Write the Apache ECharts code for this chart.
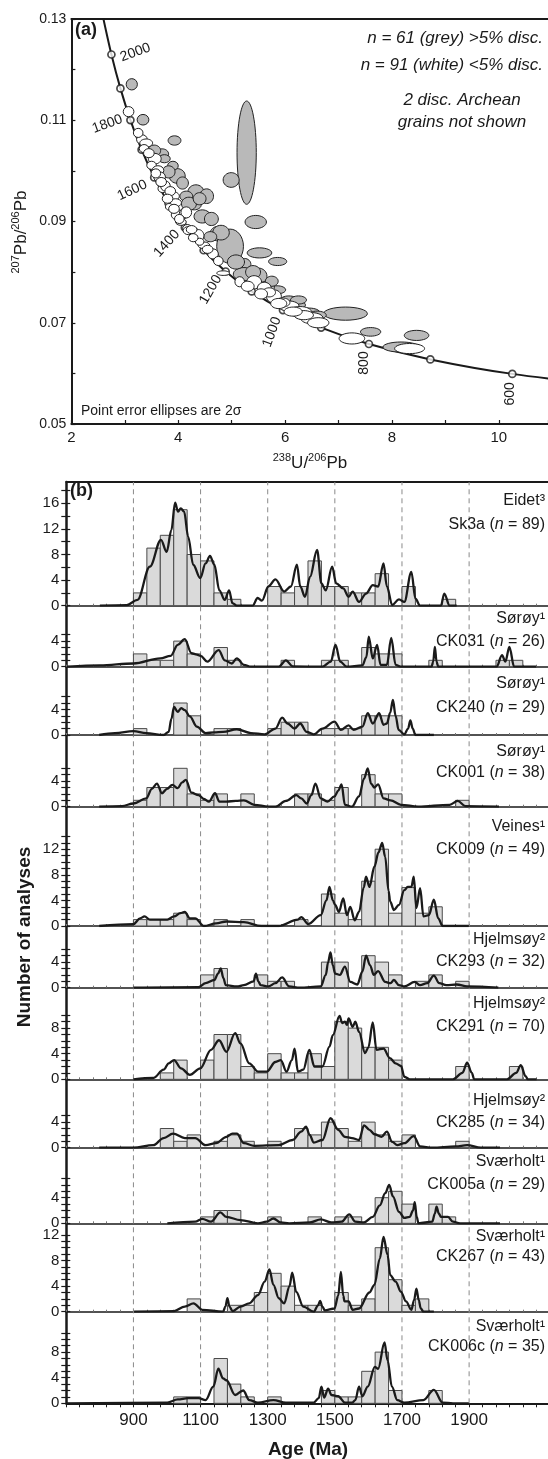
<!DOCTYPE html>
<html>
<head>
<meta charset="utf-8">
<script src="https://cdn.jsdelivr.net/npm/echarts@6/dist/echarts.min.js"></script>
<style>
html,body{margin:0;padding:0;background:#fff}
#c{width:548px;height:1459px}
</style>
</head>
<body>
<div id="c"></div>
<script>
// ---------- (a) Tera-Wasserburg concordia: [238U/206Pb, 207Pb/206Pb, age (Ma)]
const concordia = [
  [12.399, 0.057219, 500], [10.2518, 0.059901, 600], [8.7182, 0.062757, 700],
  [7.5683, 0.065800, 800], [6.6743, 0.069043, 900], [5.9593, 0.072500, 1000],
  [5.3746, 0.076187, 1100], [4.8875, 0.080122, 1200], [4.4756, 0.084323, 1300],
  [4.1232, 0.088817, 1400], [3.8170, 0.093597, 1500], [3.5497, 0.098715, 1600],
  [3.3139, 0.104186, 1700], [3.1046, 0.110036, 1800], [2.9174, 0.116293, 1900],
  [2.7490, 0.122988, 2000], [2.5968, 0.130150, 2100]
];
// age label placement next to its marker: [age, dx px, dy px, rotation deg]
const concordiaLabels = [
  [2000, 24, -2, 20], [1800, -23, 4, 20], [1600, -22, 13, 25], [1400, -18, 16, 48],
  [1200, -15, 18, 60], [1000, -11, 22, 70], [800, -5, 19, 90], [600, -2, 20, 90]
];
// error ellipses: [238U/206Pb, 207Pb/206Pb, half-width, half-height]
const greyEllipses = [
  [3.13,0.1171,0.105,0.00112],[3.34,0.1101,0.11,0.00105],[3.93,0.1060,0.12,0.00092],
  [3.70,0.1033,0.12,0.00105],[3.74,0.1024,0.11,0.0008],[3.98,0.0990,0.15,0.00145],
  [4.08,0.0976,0.11,0.0012],[4.33,0.0958,0.15,0.00145],[4.53,0.0950,0.13,0.00145],
  [4.30,0.0933,0.13,0.001],[4.45,0.0910,0.155,0.0013],[4.75,0.0876,0.155,0.00145],
  [4.93,0.0869,0.155,0.00145],[4.97,0.0851,0.25,0.0034],[4.80,0.0878,0.155,0.00145],
  [5.28,0.1036,0.18,0.0102],[4.99,0.0982,0.15,0.00145],[5.45,0.0899,0.2,0.0013],
  [5.52,0.0838,0.23,0.001],[5.86,0.0821,0.17,0.0008],[5.24,0.0815,0.12,0.0012],
  [5.50,0.0792,0.16,0.0016],[5.23,0.0796,0.2,0.0013],[5.85,0.0765,0.16,0.0008],
  [6.07,0.0745,0.16,0.0008],[7.13,0.0718,0.41,0.0013],[7.60,0.0682,0.19,0.00085],
  [8.46,0.0675,0.23,0.001],[8.17,0.0652,0.34,0.001],[6.20,0.0735,0.18,0.0009],
  [6.45,0.0720,0.2,0.0009],[5.65,0.0770,0.15,0.0012],[4.60,0.0870,0.12,0.001],
  [4.15,0.0950,0.12,0.001],[3.90,0.1010,0.1,0.0009],
  [3.55,0.1040,0.12,0.0011],[3.82,0.0998,0.12,0.0012],[4.20,0.0935,0.14,0.0013],
  [4.62,0.0905,0.13,0.0013],[4.40,0.0945,0.12,0.0012],[5.08,0.0820,0.16,0.0014],
  [5.40,0.0800,0.14,0.0013],[5.75,0.0782,0.12,0.0010],[6.25,0.0745,0.15,0.0008],
  [6.60,0.0715,0.17,0.0008]
];
const whiteEllipses = [
  [3.07,0.1117,0.10,0.001],[3.32,0.1062,0.10,0.00095],[3.40,0.1055,0.12,0.0008],
  [3.36,0.1044,0.09,0.0008],[3.56,0.1024,0.12,0.00105],[3.50,0.1011,0.09,0.0008],
  [3.62,0.1001,0.11,0.00092],[3.65,0.0988,0.11,0.001],[3.71,0.0965,0.09,0.0008],
  [3.76,0.0970,0.09,0.001],[3.89,0.0950,0.13,0.00092],[3.95,0.0937,0.11,0.0008],
  [3.83,0.0929,0.07,0.00066],[3.99,0.0913,0.12,0.001],[4.11,0.0916,0.09,0.001],
  [4.15,0.0918,0.1,0.0011],[4.17,0.0886,0.09,0.0008],[4.32,0.0876,0.09,0.001],
  [4.05,0.0899,0.1,0.00066],[4.19,0.0882,0.1,0.0008],[4.38,0.0872,0.1,0.0012],
  [4.25,0.0884,0.1,0.0008],[4.48,0.0853,0.11,0.00066],[4.65,0.0836,0.1,0.001],
  [4.84,0.0798,0.12,0.00045],[5.15,0.0781,0.09,0.001],[5.42,0.0780,0.14,0.0013],
  [5.61,0.0768,0.13,0.0012],[5.79,0.0752,0.14,0.0013],[6.07,0.0733,0.19,0.001],
  [6.28,0.0722,0.21,0.001],[6.50,0.0709,0.21,0.0011],[7.25,0.0669,0.24,0.0011],
  [8.33,0.0649,0.28,0.001],[5.70,0.0760,0.12,0.0009],[5.95,0.0740,0.14,0.0009],
  [6.35,0.0715,0.18,0.0009],[4.40,0.0860,0.08,0.0007],[3.85,0.0960,0.1,0.0009],
  [3.25,0.1075,0.09,0.0009],[3.45,0.1035,0.1,0.0009],[3.58,0.0995,0.09,0.0009],
  [3.68,0.0978,0.1,0.0009],[3.80,0.0945,0.1,0.0009],[3.92,0.0925,0.1,0.0009],
  [4.02,0.0905,0.09,0.0009],[4.28,0.0868,0.09,0.0008],[4.55,0.0845,0.1,0.0008],
  [4.75,0.0822,0.09,0.0009],[5.30,0.0772,0.12,0.001],[5.55,0.0757,0.12,0.001],
  [5.88,0.0738,0.15,0.001],[6.15,0.0722,0.17,0.0009],[6.62,0.0700,0.2,0.0010]
];
const uRatioLabels = [2, 4, 6, 8, 10];
const pbRatioLabels = [0.05, 0.07, 0.09, 0.11, 0.13];

// ---------- (b) detrital zircon age spectra: histogram bins [bin start (Ma), count], density curves [age, value]
const BIN = 40;
const binsSk3a = [[900,2],[940,9],[980,11],[1020,15],[1060,8],[1100,7],[1140,2],[1180,1],[1300,3],[1340,2],[1380,3],[1420,7],[1460,3],[1500,3],[1540,2],[1580,2],[1620,5],[1700,3],[1820,1]];
const kdeSk3a = [[800,0],[880,0.1],[912,0.9],[949,6.1],[982,10.3],[999,8.4],[1013,11.8],[1024,16.1],[1033,14.7],[1041,15.2],[1051,14.7],[1063,10.8],[1078,6.4],[1099,4.3],[1115,6.6],[1128,7.8],[1141,6.4],[1156,2.4],[1172,0.9],[1185,2.4],[1195,0.4],[1208,0],[1255,0],[1270,1.2],[1283,0.8],[1302,3],[1323,4.1],[1349,2.2],[1369,3],[1387,6.4],[1397,3],[1411,1.4],[1426,4.5],[1447,8.7],[1460,3.5],[1473,2.4],[1492,6.1],[1504,3.5],[1525,2.7],[1541,1.4],[1553,2.2],[1572,0.6],[1593,1.9],[1613,3.2],[1629,3],[1645,6.6],[1655,3],[1671,0.1],[1691,1],[1707,0.6],[1728,5.3],[1740,1.1],[1754,0],[1816,0],[1826,1.9],[1842,0],[1863,0]];

const binsCK031 = [[900,2],[940,1],[980,1],[1020,4],[1060,2],[1140,3],[1180,1],[1340,1],[1460,1],[1500,1],[1580,3],[1620,2],[1660,2],[1780,1],[1980,1],[2020,1]];
const kdeCK031 = [[705,0],[800,0.2],[900,0.5],[980,1.3],[1011,1.7],[1032,3.4],[1053,4.3],[1073,2.1],[1089,1.9],[1100,1.7],[1120,0.8],[1154,2.6],[1172,1],[1193,0.5],[1208,1.3],[1229,0.3],[1250,0],[1333,0],[1354,1],[1375,0.05],[1463,0],[1488,0.8],[1502,3.4],[1516,0.8],[1535,0],[1582,0.2],[1594,1.5],[1601,4.7],[1613,1.3],[1626,3.4],[1636,0.3],[1655,0.3],[1668,4.5],[1681,0.3],[1696,0],[1788,0],[1793,0.8],[1798,3.1],[1803,0.8],[1808,0],[1982,0],[1998,1.8],[2008,0.8],[2020,3.1],[2034,0],[2100,0]];

const binsCK240 = [[900,1],[1020,5],[1060,3],[1140,1],[1180,1],[1300,1],[1340,2],[1380,2],[1460,1],[1500,1],[1540,1],[1580,3],[1620,3],[1660,3]];
const kdeCK240 = [[798,0],[845,0.3],[900,0.6],[938,0.3],[990,0],[1005,0.5],[1013,2.5],[1021,4.4],[1032,3.6],[1042,4.2],[1053,3.9],[1068,2.9],[1089,1.3],[1115,0.3],[1140,0.4],[1167,0.5],[1208,0.9],[1250,0.3],[1291,0.1],[1323,1],[1343,2.7],[1359,1.8],[1380,1],[1397,1.8],[1416,0.5],[1437,0.1],[1463,1],[1499,2.1],[1518,0.8],[1541,1.5],[1556,0.8],[1582,1.3],[1598,3.4],[1613,1.8],[1632,3.4],[1645,1.6],[1655,1.8],[1665,3.5],[1673,5.5],[1681,3],[1690,0.8],[1707,0.1],[1718,1],[1725,2.3],[1732,1],[1740,0],[1795,0]];

const binsCK001 = [[900,1],[940,3],[980,3],[1020,6],[1060,2],[1100,1],[1140,2],[1220,2],[1380,2],[1420,2],[1460,1],[1500,3],[1580,5],[1620,2],[1660,2],[1860,1]];
const kdeCK001 = [[798,0],[866,0.1],[900,0.5],[938,1.3],[955,2.8],[970,3.6],[985,2.1],[1000,2.8],[1016,3.4],[1032,2.9],[1045,3.8],[1056,4.2],[1073,2.2],[1094,1.8],[1110,1.2],[1125,0.8],[1143,2.1],[1156,0.8],[1177,0.8],[1205,0.9],[1229,1],[1260,0.3],[1302,0],[1323,0],[1354,0.9],[1385,1.8],[1400,1.3],[1416,0.5],[1430,1.8],[1442,3.6],[1458,1.3],[1478,0.8],[1499,1.6],[1510,2.5],[1520,3.5],[1530,0.3],[1551,0],[1572,1.6],[1587,4.4],[1598,6],[1608,3.6],[1618,3],[1629,3.5],[1645,1.3],[1666,1],[1697,0.3],[1748,0],[1842,0.3],[1866,0.9],[1889,0.1],[1989,0]];

const binsCK009 = [[900,1],[940,1],[980,1],[1020,2],[1060,1],[1140,1],[1220,1],[1380,1],[1460,5],[1500,2],[1540,1],[1580,7],[1620,12],[1660,2],[1700,6],[1740,2],[1780,3]];
const kdeCK009 = [[798,0],[900,0.3],[920,1.2],[933,1.5],[949,1],[980,1],[1001,1],[1021,1.5],[1040,2],[1053,2.2],[1068,1.2],[1084,1.2],[1110,0],[1146,0.4],[1177,0.7],[1229,0.6],[1281,0],[1333,0],[1390,1],[1400,1.4],[1421,0.3],[1458,1.7],[1475,4],[1484,6.1],[1494,4],[1501,3.3],[1512,2.2],[1525,4.3],[1536,1.7],[1546,3],[1559,0.9],[1572,2.2],[1586,6],[1593,7.7],[1603,6.1],[1618,9.3],[1630,11.5],[1641,13],[1650,10.8],[1660,5.5],[1665,3.8],[1676,2.5],[1691,3.3],[1707,5.6],[1717,6.1],[1728,6.1],[1735,7.7],[1743,2.8],[1754,5.9],[1764,1.5],[1780,1.7],[1795,4.1],[1808,1.2],[1821,0],[1899,0]];

const binsCK293 = [[1100,2],[1140,3],[1260,2],[1300,1],[1340,1],[1460,4],[1500,4],[1580,5],[1620,4],[1660,2],[1740,1],[1780,2],[1860,1]];
const kdeCK293 = [[900,0],[1094,0.1],[1115,0.7],[1141,1.2],[1152,2.2],[1160,3],[1168,1.5],[1175,0.4],[1208,0.2],[1229,0.4],[1258,1],[1265,2.2],[1272,1],[1279,0.4],[1302,0.2],[1323,0.7],[1343,1.6],[1364,0.2],[1395,0],[1458,0.2],[1473,2],[1480,4],[1487,5.5],[1494,3.5],[1501,2.2],[1515,2],[1530,3.3],[1546,0.9],[1567,0.5],[1582,2.5],[1593,5],[1605,3.5],[1616,2],[1629,2.6],[1650,0.9],[1666,0.7],[1676,1.2],[1691,0.4],[1707,0.2],[1738,0.9],[1754,0.4],[1775,0.7],[1795,1.9],[1811,0.7],[1832,0.4],[1863,0.5],[1894,0.2],[1987,0]];

const binsCK291 = [[980,1],[1020,3],[1100,3],[1140,7],[1180,7],[1220,2],[1260,1],[1300,4],[1340,1],[1380,1],[1420,4],[1460,2],[1500,9],[1540,8],[1580,5],[1620,5],[1660,3],[1860,2],[2020,2]];
const kdeCK291 = [[900,0],[959,0.2],[990,1.5],[1005,2.5],[1021,3],[1042,1.7],[1068,0.7],[1099,1.7],[1131,4.6],[1155,6.1],[1177,4.3],[1203,7.2],[1219,5.6],[1245,2.5],[1271,1.2],[1297,1.2],[1323,2.7],[1339,3],[1356,1.2],[1372,3],[1380,4.8],[1390,1.2],[1406,1.5],[1424,4.6],[1439,2],[1463,2],[1484,5.1],[1494,6.9],[1514,9.9],[1522,8.8],[1530,9],[1536,8.5],[1541,9.5],[1553,8.2],[1561,9],[1572,7.4],[1590,4.1],[1600,5],[1613,8.9],[1624,4.6],[1645,4.8],[1664,3.3],[1681,2.5],[1697,2.1],[1707,0.4],[1723,0],[1852,0],[1880,1],[1894,2.6],[1908,1],[1915,0],[2013,0],[2040,1],[2054,2.2],[2068,0.5],[2075,0],[2101,0]];

const binsCK285 = [[980,3],[1020,1],[1060,2],[1140,1],[1180,2],[1220,1],[1300,1],[1380,3],[1420,2],[1460,4],[1500,3],[1540,1],[1580,4],[1620,2],[1660,1],[1700,2],[1860,1]];
const kdeCK285 = [[798,0],[900,0],[959,0.4],[990,1.5],[1018,2.2],[1053,1.5],[1084,1.5],[1115,0.4],[1146,0.7],[1177,1.7],[1195,2.2],[1208,2.2],[1229,0.7],[1260,0.3],[1333,0.4],[1374,1.2],[1400,2.5],[1414,3.3],[1425,2],[1437,0.8],[1463,1.2],[1487,4.6],[1510,2.8],[1530,1.7],[1551,1.5],[1572,1.2],[1587,3.5],[1603,2.8],[1618,2.1],[1639,1.7],[1655,2.5],[1671,0.9],[1686,0.4],[1707,0.7],[1735,1.8],[1754,0.2],[1790,0],[1860,0.2],[1894,0.4],[1935,0],[1992,0]];

const binsCK005a = [[1100,1],[1140,2],[1180,2],[1300,1],[1420,1],[1500,1],[1540,1],[1620,4],[1660,5],[1700,3],[1780,3],[1820,1]];
const kdeCK005a = [[1001,0],[1084,0.25],[1105,0.7],[1131,0.25],[1159,1.7],[1177,1],[1219,0.5],[1271,0],[1297,0.25],[1317,0.75],[1338,0.15],[1364,0],[1426,0.15],[1458,0.6],[1489,0.15],[1520,0.25],[1543,1.4],[1561,0.25],[1587,0.15],[1613,1],[1634,2.8],[1650,4.7],[1662,6],[1673,4.2],[1691,1.8],[1707,0.85],[1723,1],[1733,2],[1738,3.3],[1744,1],[1749,0],[1790,0.25],[1798,1.5],[1803,2.6],[1810,1.5],[1816,1],[1837,1],[1852,0.25],[1873,0],[1992,0]];

const binsCK267 = [[1060,2],[1180,1],[1220,1],[1260,3],[1300,6],[1340,4],[1380,1],[1420,1],[1500,3],[1540,1],[1580,2],[1620,10],[1660,5],[1700,1],[1740,2]];
const kdeCK267 = [[902,0],[1021,0.1],[1053,0.8],[1079,1.3],[1105,0.3],[1167,0],[1174,0.8],[1180,2.1],[1186,0.8],[1195,0.1],[1219,0.8],[1245,1.3],[1271,2.6],[1291,4.7],[1305,6.6],[1317,4.2],[1333,2.1],[1349,1.3],[1365,4],[1373,6.1],[1385,3.1],[1406,0.8],[1437,0],[1450,1],[1456,1.7],[1463,0.8],[1470,0.2],[1499,0.5],[1510,2.5],[1518,6.2],[1525,2.5],[1529,1.6],[1541,1.6],[1553,0.3],[1572,0.5],[1603,3],[1618,4.2],[1634,8.3],[1645,11.7],[1657,8.9],[1665,5.7],[1681,4.7],[1697,3.1],[1712,1.6],[1728,0.3],[1736,1.8],[1743,3.6],[1750,1.8],[1756,0.5],[1764,0],[1795,0]];

const binsCK006c = [[1020,1],[1060,1],[1140,7],[1180,3],[1220,1],[1300,1],[1460,2],[1500,1],[1540,1],[1580,5],[1620,8],[1660,2],[1780,2]];
const kdeCK006c = [[700,0],[1001,0.1],[1032,0.6],[1063,0.8],[1094,0.8],[1115,0.5],[1138,2.6],[1153,5.4],[1167,3.9],[1177,3.6],[1203,1.3],[1227,2],[1245,0.5],[1271,0.1],[1317,0.5],[1354,0.1],[1437,0.1],[1452,0.8],[1460,2.6],[1468,0.9],[1480,2.3],[1490,1.3],[1510,1.1],[1530,0.1],[1551,0.1],[1561,0.5],[1572,2.6],[1582,1.1],[1598,2.6],[1619,5.7],[1629,5.4],[1648,9.5],[1657,6.7],[1670,2.6],[1686,0.5],[1707,0.1],[1764,0.5],[1795,2.1],[1821,0.1],[1852,0],[1899,0]];

const siteNames = ['Eidet³','Sørøy¹','Sørøy¹','Sørøy¹','Veines¹','Hjelmsøy²','Hjelmsøy²','Hjelmsøy²','Sværholt¹','Sværholt¹','Sværholt¹'];
const sampleIds = ['Sk3a','CK031','CK240','CK001','CK009','CK293','CK291','CK285','CK005a','CK267','CK006c'];
const sampleN = [89, 26, 29, 38, 49, 32, 70, 34, 29, 43, 35];
const binSets = [binsSk3a, binsCK031, binsCK240, binsCK001, binsCK009, binsCK293, binsCK291, binsCK285, binsCK005a, binsCK267, binsCK006c];
const kdeSets = [kdeSk3a, kdeCK031, kdeCK240, kdeCK001, kdeCK009, kdeCK293, kdeCK291, kdeCK285, kdeCK005a, kdeCK267, kdeCK006c];
const countLabels = [[0,4,8,12,16],[0,4],[0,4],[0,4],[0,4,8,12],[0,4],[0,4,8],[0,4],[0,4],[0,4,8,12],[0,4,8]];
const countTickTop = [18, 5, 6, 6, 14, 6, 10, 5, 7, 12, 11];
const countTickStep = [2, 1, 1, 1, 1, 1, 1, 1, 1, 1, 1];
const ageLabels = [900, 1100, 1300, 1500, 1700, 1900];
const gridAges = [900, 1100, 1300, 1500, 1700, 1900];

// ---------- layout
const FONT = '"Liberation Sans", Arial, Helvetica, sans-serif';
const INK = '#1a1a1a';
const AGE_MIN = 700, AGE_MAX = 2135;
const B_LEFT = 66.3;
const panelTop = [482, 605.7, 666.7, 735, 806.7, 926, 987.7, 1079.3, 1147.7, 1223.3, 1311.7];
const panelBase = [605.7, 666.7, 735, 806.7, 926, 987.7, 1079.3, 1147.7, 1223.3, 1311.7, 1403.3];
const PX_PER_COUNT = 6.4;
const labelDy = [[19, 43], [13, 36], [17, 41], [17, 38], [20, 43], [14, 36], [16, 39], [21, 43], [14, 37], [13, 33], [15, 35]];

const ageTicks = [];
for (let a = AGE_MIN; a <= 2120; a += BIN) ageTicks.push(a);

const grids = [], xAxes = [], yAxes = [], series = [], graphics = [];

// ---------- panel (a)
grids.push({ left: 71.4, top: 19, width: 548 - 71.4, height: 405 });
xAxes.push({
  gridIndex: 0, type: 'value', min: 2, max: 10.92, interval: 1,
  axisLine: { show: true, onZero: false, lineStyle: { color: INK, width: 2 } },
  axisTick: { show: true, inside: true, length: 4, lineStyle: { color: INK, width: 1.2 } },
  axisLabel: { show: true, customValues: uRatioLabels, formatter: v => String(v), color: INK, fontSize: 15, fontFamily: FONT, margin: 6 },
  splitLine: { show: false }
});
xAxes.push({
  gridIndex: 0, type: 'value', min: 2, max: 10.92, position: 'top',
  axisLine: { show: true, onZero: false, lineStyle: { color: INK, width: 2 } },
  axisTick: { show: false }, axisLabel: { show: false }, splitLine: { show: false }
});
yAxes.push({
  gridIndex: 0, type: 'value', min: 0.05, max: 0.13, interval: 0.01,
  axisLine: { show: true, onZero: false, lineStyle: { color: INK, width: 2 } },
  axisTick: { show: true, inside: true, length: 4, lineStyle: { color: INK, width: 1.2 } },
  axisLabel: { show: true, customValues: pbRatioLabels, formatter: v => v.toFixed(2), color: INK, fontSize: 14, fontFamily: FONT, margin: 5 },
  splitLine: { show: false }
});

series.push({
  type: 'line', xAxisIndex: 0, yAxisIndex: 0, z: 2, silent: true,
  data: concordia.map(r => [r[0], r[1]]),
  smooth: 0.3, symbol: 'none', clip: true,
  lineStyle: { color: INK, width: 2 }
});
series.push({
  type: 'scatter', xAxisIndex: 0, yAxisIndex: 0, z: 3, silent: true,
  symbol: 'circle', symbolSize: 7,
  itemStyle: { color: '#fff', borderColor: INK, borderWidth: 1.7 },
  data: concordia.filter(r => r[2] >= 600 && r[2] <= 2000).map(r => [r[0], r[1]])
});
// age labels, placed relative to the marker of the same age
series.push({
  type: 'custom', xAxisIndex: 0, yAxisIndex: 0, z: 6, silent: true, clip: false,
  data: concordiaLabels.map(l => {
    const r = concordia.find(c => c[2] === l[0]);
    return [r[0], r[1], r[2], l[1], l[2], l[3]];
  }),
  renderItem: (params, api) => {
    const c = api.coord([api.value(0), api.value(1)]);
    return {
      type: 'text', x: c[0] + api.value(3), y: c[1] + api.value(4), rotation: api.value(5) * Math.PI / 180,
      style: { text: String(api.value(2)), fill: INK, fontSize: 14, fontFamily: FONT, align: 'center', verticalAlign: 'middle' }
    };
  }
});
function ellipseSeries(list, fill, z) {
  return {
    type: 'custom', xAxisIndex: 0, yAxisIndex: 0, z, silent: true, clip: true,
    data: list,
    renderItem: (params, api) => {
      const c = api.coord([api.value(0), api.value(1)]);
      const s = api.size([api.value(2), api.value(3)]);
      return { type: 'ellipse', shape: { cx: c[0], cy: c[1], rx: s[0], ry: s[1] },
               style: { fill, stroke: '#222', lineWidth: 1 } };
    }
  };
}
series.push(ellipseSeries(greyEllipses, '#b9b9b9', 4));
series.push(ellipseSeries(whiteEllipses, '#ffffff', 5));

// ---------- panel (b): one grid per sample
for (let p = 0; p < 11; p++) {
  const g = grids.length;
  const h = panelBase[p] - panelTop[p];
  const ymax = h / PX_PER_COUNT;
  const last = p === 10;
  grids.push({ left: B_LEFT, top: panelTop[p], width: 548 - B_LEFT, height: h });
  const xi = xAxes.length;
  xAxes.push({
    gridIndex: g, type: 'value', min: AGE_MIN, max: AGE_MAX,
    axisLine: { show: true, onZero: false, lineStyle: { color: INK, width: last ? 2 : 1.5 } },
    axisTick: { show: true, customValues: ageTicks, inside: !last, length: last ? 4 : 2,
                lineStyle: { color: last ? INK : '#777', width: 1 } },
    axisLabel: last ? { show: true, customValues: ageLabels, formatter: v => String(v), color: INK, fontSize: 17, fontFamily: FONT, margin: 9 }
                    : { show: false },
    splitLine: { show: false }
  });
  if (p === 0) {
    xAxes.push({
      gridIndex: g, type: 'value', min: AGE_MIN, max: AGE_MAX, position: 'top',
      axisLine: { show: true, onZero: false, lineStyle: { color: INK, width: 2 } },
      axisTick: { show: false }, axisLabel: { show: false }, splitLine: { show: false }
    });
  }
  const ticks = [];
  for (let t = 0; t <= countTickTop[p]; t += countTickStep[p]) ticks.push(t);
  const yi = yAxes.length;
  yAxes.push({
    gridIndex: g, type: 'value', min: 0, max: ymax, position: 'left',
    axisLine: { show: true, onZero: false, lineStyle: { color: INK, width: 2.5 } },
    axisTick: { show: true, customValues: ticks, length: 5, lineStyle: { color: INK, width: 1.2 } },
    axisLabel: { show: true, customValues: countLabels[p], formatter: v => String(v), color: INK, fontSize: 15, fontFamily: FONT, margin: 7 },
    splitLine: { show: false }
  });
  yAxes.push({
    gridIndex: g, type: 'value', min: 0, max: ymax, position: 'left',
    axisLine: { show: false },
    axisTick: { show: true, inside: true, customValues: ticks, length: 4, lineStyle: { color: INK, width: 1.2 } },
    axisLabel: { show: false }, splitLine: { show: false }
  });
  series.push({
    type: 'custom', xAxisIndex: xi, yAxisIndex: yi, z: 2, silent: true,
    data: binSets[p],
    renderItem: (params, api) => {
      const a0 = api.value(0), n = api.value(1);
      const p0 = api.coord([a0, 0]);
      const p1 = api.coord([a0 + BIN, n]);
      return { type: 'rect', shape: { x: p0[0], y: p1[1], width: p1[0] - p0[0], height: p0[1] - p1[1] },
               style: { fill: '#dadada', stroke: '#4a4a4a', lineWidth: 1 } };
    }
  });
  series.push({
    type: 'line', xAxisIndex: xi, yAxisIndex: yi, z: 3, silent: true, clip: true,
    data: kdeSets[p], smooth: 0.35, smoothMonotone: 'x', symbol: 'none',
    lineStyle: { color: INK, width: 2.3 }
  });
  graphics.push({
    type: 'text', x: 545, y: panelTop[p] + labelDy[p][0], z: 50,
    style: { text: siteNames[p], fill: INK, fontFamily: FONT, fontSize: 16, align: 'right', verticalAlign: 'middle' }
  });
  graphics.push({
    type: 'text', x: 545, y: panelTop[p] + labelDy[p][1], z: 50,
    style: {
      text: '{r|' + sampleIds[p] + ' (}{i|n}{r| = ' + sampleN[p] + ')}',
      align: 'right', verticalAlign: 'middle',
      rich: { r: { fontSize: 16, fontFamily: FONT, fill: INK }, i: { fontSize: 16, fontFamily: FONT, fontStyle: 'italic', fill: INK } }
    }
  });
}

// dashed age guides across all sample panels
const og = grids.length;
grids.push({ left: B_LEFT, top: panelTop[0], width: 548 - B_LEFT, height: panelBase[10] - panelTop[0] });
const oxi = xAxes.length;
xAxes.push({ gridIndex: og, type: 'value', min: AGE_MIN, max: AGE_MAX, show: false });
const oyi = yAxes.length;
yAxes.push({ gridIndex: og, type: 'value', min: 0, max: 1, show: false });
series.push({
  type: 'custom', xAxisIndex: oxi, yAxisIndex: oyi, z: 1, silent: true,
  data: gridAges.map(a => [a]),
  renderItem: (params, api) => {
    const a = api.coord([api.value(0), 0]);
    const b = api.coord([api.value(0), 1]);
    return { type: 'line', shape: { x1: a[0], y1: a[1], x2: b[0], y2: b[1] },
             style: { stroke: '#8a8a8a', lineWidth: 1, lineDash: [5, 4] } };
  }
});

// ---------- titles and notes
const sup = { fontSize: 11, fontFamily: FONT, fill: INK, verticalAlign: 'top', lineHeight: 11 };
const base = { fontSize: 17, fontFamily: FONT, fill: INK, lineHeight: 21 };
graphics.push(
  { type: 'text', x: 75, y: 30, z: 50, style: { text: '(a)', fill: INK, fontFamily: FONT, fontSize: 18, fontWeight: 'bold', align: 'left', verticalAlign: 'middle' } },
  { type: 'text', x: 543, y: 38, z: 50, style: { text: 'n = 61 (grey) >5% disc.', fill: INK, fontFamily: FONT, fontSize: 17, fontStyle: 'italic', align: 'right', verticalAlign: 'middle' } },
  { type: 'text', x: 543, y: 65, z: 50, style: { text: 'n = 91 (white) <5% disc.', fill: INK, fontFamily: FONT, fontSize: 17, fontStyle: 'italic', align: 'right', verticalAlign: 'middle' } },
  { type: 'text', x: 462, y: 100, z: 50, style: { text: '2 disc. Archean', fill: INK, fontFamily: FONT, fontSize: 17, fontStyle: 'italic', align: 'center', verticalAlign: 'middle' } },
  { type: 'text', x: 462, y: 122, z: 50, style: { text: 'grains not shown', fill: INK, fontFamily: FONT, fontSize: 17, fontStyle: 'italic', align: 'center', verticalAlign: 'middle' } },
  { type: 'text', x: 81, y: 411, z: 50, style: { text: 'Point error ellipses are 2σ', fill: INK, fontFamily: FONT, fontSize: 14, align: 'left', verticalAlign: 'middle' } },
  { type: 'text', x: 310, y: 463, z: 50, style: { text: '{s|238}{b|U/}{s|206}{b|Pb}', align: 'center', verticalAlign: 'middle', rich: { s: sup, b: base } } },
  { type: 'text', x: 21, y: 232, z: 50, rotation: Math.PI / 2, style: { text: '{s|207}{b|Pb/}{s|206}{b|Pb}', align: 'center', verticalAlign: 'middle', rich: { s: sup, b: base } } },
  { type: 'text', x: 70, y: 491, z: 50, style: { text: '(b)', fill: INK, fontFamily: FONT, fontSize: 18, fontWeight: 'bold', align: 'left', verticalAlign: 'middle' } },
  { type: 'text', x: 25, y: 937, z: 50, rotation: Math.PI / 2, style: { text: 'Number of analyses', fill: INK, fontFamily: FONT, fontSize: 19, fontWeight: 'bold', align: 'center', verticalAlign: 'middle' } },
  { type: 'text', x: 308, y: 1450, z: 50, style: { text: 'Age (Ma)', fill: INK, fontFamily: FONT, fontSize: 19, fontWeight: 'bold', align: 'center', verticalAlign: 'middle' } }
);

const chart = echarts.init(document.getElementById('c'), null, { renderer: 'canvas' });
chart.setOption({
  animation: false,
  backgroundColor: '#ffffff',
  textStyle: { fontFamily: FONT },
  grid: grids, xAxis: xAxes, yAxis: yAxes, series, graphic: graphics
});
</script>
</body>
</html>
